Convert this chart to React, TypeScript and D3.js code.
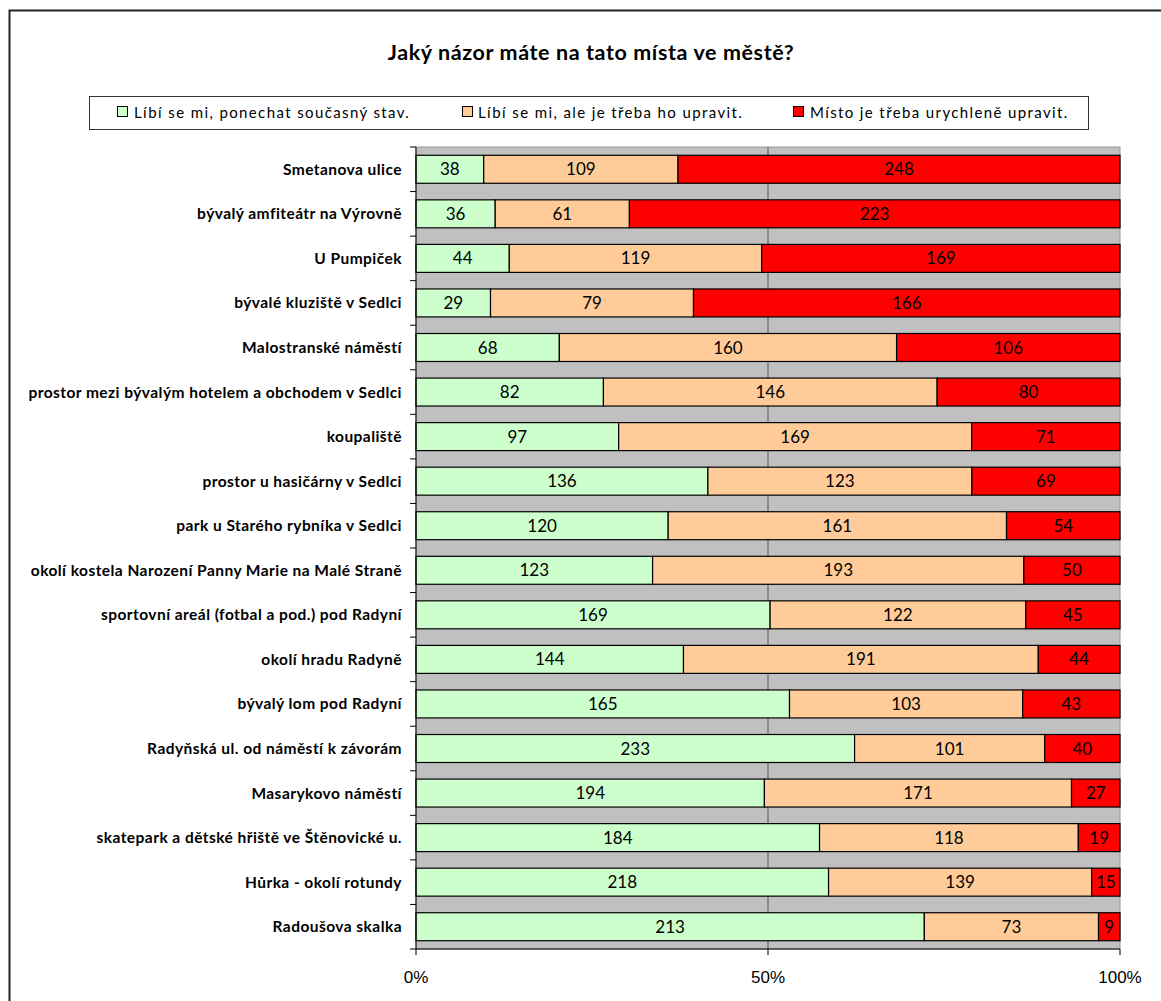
import React from "react";
import * as d3 from "d3";

const title = "Jaký názor máte na tato místa ve městě?";
const seriesNames = [
  "Líbí se mi, ponechat současný stav.",
  "Líbí se mi, ale je třeba ho upravit.",
  "Místo je třeba urychleně upravit.",
];
const seriesColors = ["#ccffcc", "#ffcc99", "#ff0000"];
const categories = [
  "Smetanova ulice",
  "bývalý amfiteátr na Výrovně",
  "U Pumpiček",
  "bývalé kluziště v Sedlci",
  "Malostranské náměstí",
  "prostor mezi bývalým hotelem a obchodem v Sedlci",
  "koupaliště",
  "prostor u hasičárny v Sedlci",
  "park u Starého rybníka v Sedlci",
  "okolí kostela Narození Panny Marie na Malé Straně",
  "sportovní areál (fotbal a pod.) pod Radyní",
  "okolí hradu Radyně",
  "bývalý lom pod Radyní",
  "Radyňská ul. od náměstí k závorám",
  "Masarykovo náměstí",
  "skatepark a dětské hřiště ve Štěnovické u.",
  "Hůrka - okolí rotundy",
  "Radoušova skalka",
];
const keepValues = [38, 36, 44, 29, 68, 82, 97, 136, 120, 123, 169, 144, 165, 233, 194, 184, 218, 213];
const adjustValues = [109, 61, 119, 79, 160, 146, 169, 123, 161, 193, 122, 191, 103, 101, 171, 118, 139, 73];
const urgentValues = [248, 223, 169, 166, 106, 80, 71, 69, 54, 50, 45, 44, 43, 40, 27, 19, 15, 9];
const xTicks = [0, 0.5, 1];

const W = 1161;
const H = 1001;
const plot = { left: 416, right: 1120, top: 147, bottom: 949 };

export default function App() {
  const series = [keepValues, adjustValues, urgentValues];
  const x = d3.scaleLinear().domain([0, 1]).range([plot.left, plot.right]);
  const y = d3
    .scaleBand<string>()
    .domain(categories)
    .range([plot.top, plot.bottom])
    .paddingInner(0.372)
    .paddingOuter(0.186);
  const step = y.step();
  const font = "Lato, 'Open Sans', sans-serif";

  const legendItems = [
    { sq: 117, tx: 134 },
    { sq: 462, tx: 478 },
    { sq: 793, tx: 810 },
  ];

  return (
    <svg
      width={W}
      height={H}
      style={{ position: "absolute", left: 0, top: 0, background: "#fff" }}
    >
      <rect x={9.5} y={10.5} width={1300} height={1200} fill="#fff" stroke="#222" strokeWidth={2} />
      <text x={591} y={60} textAnchor="middle" fontFamily={font} fontWeight="bold" fontSize={21.5} letterSpacing={0.6} fill="#000">
        {title}
      </text>
      {/* legend */}
      <rect x={89.5} y={96.5} width={999} height={33} fill="#fff" stroke="#333" strokeWidth={1} />
      {legendItems.map((it, i) => (
        <g key={i}>
          <rect x={it.sq + 0.5} y={106.5} width={10} height={10} fill={seriesColors[i]} stroke="#000" strokeWidth={1} />
          <text x={it.tx} y={118} fontFamily={font} fontSize={15} letterSpacing={1.38} fill="#000">
            {seriesNames[i]}
          </text>
        </g>
      ))}
      {/* plot background */}
      <rect x={plot.left} y={plot.top} width={plot.right - plot.left} height={plot.bottom - plot.top} fill="#c0c0c0" stroke="#9a9a9a" strokeWidth={1} />
      <line x1={x(0.5)} x2={x(0.5)} y1={plot.top} y2={plot.bottom} stroke="#555" strokeWidth={1} />
      {/* bars */}
      {categories.map((c, i) => {
        const total = series.reduce((s, arr) => s + arr[i], 0);
        let acc = 0;
        const y0 = y(c)!;
        return (
          <g key={c}>
            {series.map((arr, si) => {
              const v = arr[i];
              const x0 = x(acc / total);
              acc += v;
              const x1 = x(acc / total);
              return (
                <g key={si}>
                  <rect x={x0} y={y0} width={x1 - x0} height={y.bandwidth()} fill={seriesColors[si]} stroke="#000" strokeWidth={1.2} />
                  <text x={(x0 + x1) / 2} y={y0 + y.bandwidth() / 2 + 6} textAnchor="middle" fontFamily={font} fontSize={17} fill="#000">
                    {v}
                  </text>
                </g>
              );
            })}
            <text x={402} y={y0 + y.bandwidth() / 2 + 5.5} textAnchor="end" fontFamily={font} fontWeight="bold" fontSize={15.5} letterSpacing={0.45} fill="#000">
              {c}
            </text>
          </g>
        );
      })}
      {/* axes */}
      <line x1={plot.left} x2={plot.left} y1={plot.top} y2={plot.bottom} stroke="#000" strokeWidth={1} />
      <line x1={plot.left} x2={plot.right} y1={plot.bottom} y2={plot.bottom} stroke="#000" strokeWidth={1} />
      {d3.range(categories.length + 1).map((k) => (
        <line key={k} x1={plot.left - 6} x2={plot.left} y1={plot.top + k * step} y2={plot.top + k * step} stroke="#000" strokeWidth={1} />
      ))}
      {xTicks.map((t) => (
        <g key={t}>
          <line x1={x(t)} x2={x(t)} y1={plot.bottom} y2={plot.bottom + 6} stroke="#000" strokeWidth={1} />
          <text x={x(t)} y={983} textAnchor="middle" fontFamily="'Liberation Sans', Arial, sans-serif" fontSize={17} fill="#000">
            {d3.format(".0%")(t)}
          </text>
        </g>
      ))}
    </svg>
  );
}
